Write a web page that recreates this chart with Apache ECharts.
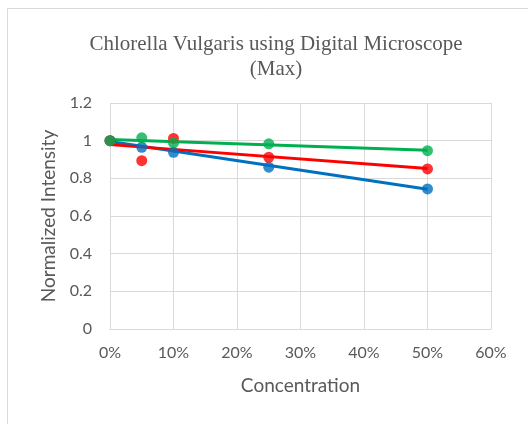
<!DOCTYPE html>
<html><head><meta charset="utf-8">
<script src="https://cdn.jsdelivr.net/npm/echarts@6/dist/echarts.min.js"></script>
<style>html,body{margin:0;padding:0;background:#fff}#c{width:528px;height:424px}</style>
</head><body><div id="c"></div>
<script>
const concentrations = [0, 0.05, 0.10, 0.25, 0.50];
const blueValues = [1.0, 0.965, 0.938, 0.859, 0.744];
const redValues = [1.0, 0.894, 1.012, 0.912, 0.850];
const greenValues = [1.0, 1.015, 0.988, 0.983, 0.947];
const trendX = [0, 0.50];
const blueTrend = [0.995, 0.742];
const redTrend = [0.979, 0.852];
const greenTrend = [1.006, 0.949];
const yTicks = [0, 0.2, 0.4, 0.6, 0.8, 1, 1.2];
const xTicks = ['0%','10%','20%','30%','40%','50%','60%'];

const colors = {blue:'#0070C0', red:'#FF0000', green:'#00B050'};
const pts = vals => concentrations.map((x,i)=>[x, vals[i]]);
const tr = vals => trendX.map((x,i)=>[x, vals[i]]);
const font = 'Lato, "Open Sans", sans-serif';

function scatter(name, vals, color){
  return {type:'scatter', name, data:pts(vals), symbolSize:11, itemStyle:{color}, z:5};
}
function trend(name, vals, color){
  return {type:'line', name:name+' trend', data:tr(vals), symbol:'none', lineStyle:{color, width:3}, z:4};
}

const chart = echarts.init(document.getElementById('c'), null, {renderer:'canvas'});
chart.setOption({
  animation:false,
  graphic:[{type:'rect', shape:{x:7.5,y:8.5,width:600,height:500}, style:{fill:'none', stroke:'#d9d9d9', lineWidth:1}}],
  title:{
    text:'Chlorella Vulgaris using Digital Microscope\n(Max)',
    left:271, top:27, textAlign:'center',
    textStyle:{fontFamily:'"Liberation Serif", serif', fontWeight:'normal', fontSize:21, color:'#595959', lineHeight:25}
  },
  grid:{left:110, right:37, top:103, bottom:95},
  xAxis:{
    type:'value', min:0, max:0.6, interval:0.1,
    name:'Concentration', nameLocation:'middle', nameGap:47,
    nameTextStyle:{fontFamily:font, fontSize:19, color:'#595959'},
    axisLine:{show:true, lineStyle:{color:'#d9d9d9', width:1}},
    axisTick:{show:false},
    splitLine:{show:true, lineStyle:{color:'#d9d9d9', width:1}},
    axisLabel:{formatter:v=>xTicks[Math.round(v*10)], fontFamily:font, fontSize:16, color:'#595959', margin:16}
  },
  yAxis:{
    type:'value', min:0, max:1.2, interval:0.2,
    name:'Normalized Intensity', nameLocation:'middle', nameGap:52,
    nameTextStyle:{fontFamily:font, fontSize:19, color:'#595959'},
    axisLine:{show:false}, axisTick:{show:false},
    splitLine:{show:true, lineStyle:{color:'#d9d9d9', width:1}},
    axisLabel:{formatter:v=>String(yTicks[Math.round(v*5)]), fontFamily:font, fontSize:16, color:'#595959', margin:18}
  },
  series:[
    trend('blue', blueTrend, colors.blue),
    trend('red', redTrend, colors.red),
    trend('green', greenTrend, colors.green),
    scatter('blue', blueValues, colors.blue),
    scatter('red', redValues, colors.red),
    scatter('green', greenValues, colors.green)
  ]
});
</script></body></html>
